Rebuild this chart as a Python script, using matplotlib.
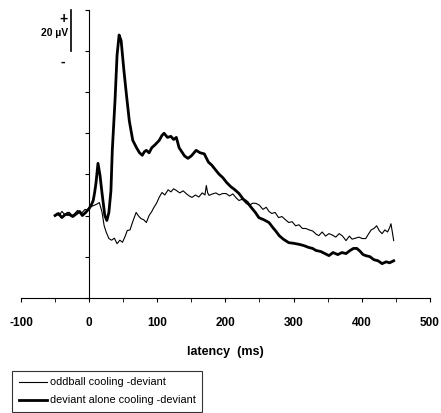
import matplotlib
matplotlib.use("Agg")
import matplotlib.pyplot as plt
import numpy as np

plt.rcParams['font.family'] = ['Liberation Sans', 'DejaVu Sans']

# deviant alone cooling - deviant (thick)
t_thick = [-50, -45, -40, -35, -29, -24, -18, -14, -10, -5, 0, 3, 6, 8, 10, 13, 16, 19, 23, 26,
           29, 32, 34, 38, 41, 44, 47, 51, 55, 59, 64, 70, 74, 78, 81, 84, 88, 92, 97, 103,
           107, 110, 115, 120, 124, 128, 132, 136, 140, 145, 150, 157, 163, 169, 175, 180,
           186, 191, 196, 202, 208, 214, 220, 226, 232, 238, 244, 249, 256, 264, 270, 275,
           279, 285, 293, 300, 308, 315, 322, 328, 333, 340, 346, 352, 358, 365, 371, 377,
           383, 388, 393, 398, 402, 406, 412, 418, 424, 430, 436, 441, 447]
v_thick = [0, 1, -1, 0.5, 0.5, -0.5, 1, 2, 0, 1.5, 3.4, 5, 7.3, 11, 15.6, 25.4, 19.5, 10.7, 0, -2.4,
           1.5, 12, 31.7, 56, 78, 87.8, 85, 70.7, 58, 46, 36.6, 32.7, 30.5, 29.3, 31, 31.7, 30.5, 33, 34.5, 36.6,
           39, 40, 38, 38.5, 37, 38, 33, 31, 29, 27.8, 29, 31.7, 30.5, 30, 26, 24.5,
           22, 20, 18.5, 16, 14, 12.5, 10.7, 8, 6.5, 3.9, 1.5, -1, -2, -3.4, -6, -8,
           -9.8, -11.5, -13.2, -13.5, -14, -14.6, -15.5, -16, -17, -17.5, -18.5, -19.5, -18, -19, -18, -18.5,
           -17, -16, -16, -17.5, -19, -19.5, -20, -21.5, -22, -23.4, -22.5, -23, -22]

# oddball cooling - deviant (thin)
t_thin = [-48, -44, -40, -36, -32, -29, -25, -21, -17, -13, -10, -6, -3, 0, 4, 7, 11, 15, 17, 19,
          22, 25, 29, 33, 37, 41, 45, 49, 53, 56, 60, 64, 69, 72, 76, 80, 84, 88, 92, 95,
          99, 103, 107, 111, 116, 120, 124, 128, 133, 138, 143, 147, 151, 156, 161, 166, 170, 172,
          174, 176, 181, 186, 191, 196, 201, 206, 211, 216, 220, 225, 230, 235, 240, 245, 250,
          255, 260, 264, 268, 273, 278, 283, 288, 293, 298, 303, 308, 313, 318, 323, 328, 333,
          337, 342, 347, 352, 357, 362, 367, 372, 377, 382, 386, 391, 396, 401, 406, 410, 414,
          418, 422, 426, 430, 434, 438, 441, 443, 445, 447]
v_thin = [1, 0, 2, 0.5, 1.5, 1.5, 0, 1, 2.5, 1, 1.5, 3, 2.5, 3.9, 4.5, 4.9, 5.5, 6.3, 4, 1.5,
          -4.9, -8, -11.2, -12, -11, -13.7, -12, -13, -10, -7.3, -7, -3, 1.5, 0, -1.5, -2, -3.4, 0, 2, 3.9,
          6, 9, 11.2, 10, 12.5, 11.5, 13, 12.2, 11, 12, 10.5, 9.5, 8.8, 10, 9, 11, 10, 14.6,
          11, 9.8, 10.5, 11, 10, 10.7, 10.7, 9.5, 10.5, 8.5, 7.3, 8, 6, 4.9, 6, 5.9, 5,
          3, 4, 2, 1, 1.5, -1, -0.5, -2, -3.4, -3, -5, -4.5, -6.3, -6.3, -7, -7.5, -9,
          -9.8, -8, -10, -8.8, -9.5, -10.5, -8.8, -10, -12.2, -10, -11.5, -11, -10.5, -11.2, -11.2, -9, -7,
          -6.3, -5, -7.5, -8.8, -7, -8, -5.9, -4, -8, -12.2]

xticks = [-100, 0, 100, 200, 300, 400, 500]

fig = plt.figure(figsize=(4.41, 4.13), dpi=100)
ax = fig.add_axes([0.0476, 0.279, 0.927, 0.697])

ax.plot(t_thin, v_thin, color='black', lw=0.8, label='oddball cooling -deviant')
ax.plot(t_thick, v_thick, color='black', lw=2.0, label='deviant alone cooling -deviant')

ax.set_xlim(-100, 500)
ax.set_ylim(-40, 100)
ax.spines['left'].set_position(('data', 0))
ax.spines['top'].set_visible(False)
ax.spines['right'].set_visible(False)
ax.set_xticks(xticks)
ax.set_xticks(np.arange(-50, 500, 100), minor=True)
ax.set_xticklabels([str(x) for x in xticks], fontsize=8.5, fontweight='bold')
ax.tick_params(axis='x', which='both', direction='out', length=3, pad=11)
ax.set_yticks(np.arange(-40, 101, 20))
ax.set_yticklabels([])
ax.tick_params(axis='y', direction='out', length=3)
ax.set_xlabel('latency  (ms)', fontsize=9, fontweight='bold', labelpad=12)

# 20 uV scale bar
ax.plot([-26, -26], [80, 100], color='black', lw=1.2, clip_on=False)
ax.text(-37, 95.5, '+', fontsize=10, fontweight='bold', ha='center', va='center')
ax.text(-31, 89, '20 µV', fontsize=7.5, fontweight='bold', ha='right', va='center')
ax.text(-38, 75, '-', fontsize=10, fontweight='bold', ha='center', va='center')

leg = fig.legend(loc='lower left', bbox_to_anchor=(0.025, 0.0), fontsize=7.8,
                 frameon=True, fancybox=False, handlelength=2.6, handletextpad=0.3,
                 borderpad=0.6, labelspacing=0.75, borderaxespad=0.1)
leg.get_frame().set_edgecolor('black')
leg.get_frame().set_linewidth(0.8)

fig.savefig('out.png', dpi=100)
